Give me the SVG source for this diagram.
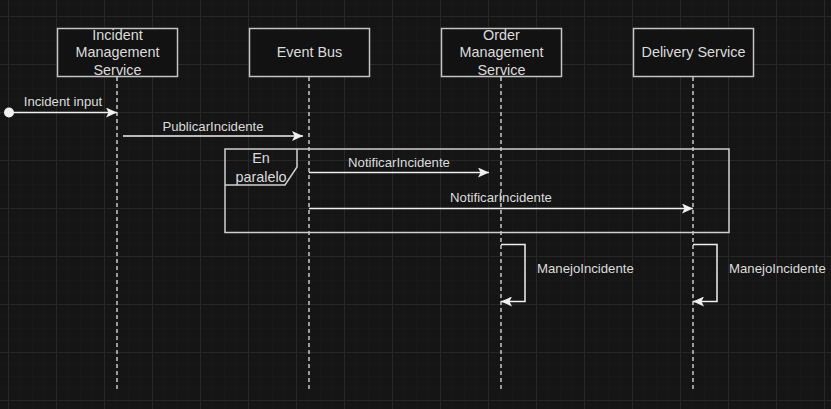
<svg xmlns="http://www.w3.org/2000/svg" width="831" height="409" viewBox="0 0 831 409">
<defs>
<pattern id="minor" x="8" y="16" width="12" height="12" patternUnits="userSpaceOnUse">
<path d="M0 0H12M0 0V12" fill="none" stroke="#1c1c1c" stroke-width="1"/>
</pattern>
<pattern id="major" x="8" y="16" width="48" height="48" patternUnits="userSpaceOnUse">
<path d="M0 0.5H48M0.5 0V48" fill="none" stroke="#272727" stroke-width="1"/>
</pattern>
<marker id="arr" viewBox="0 0 11 10" refX="11" refY="5" markerWidth="11" markerHeight="10" markerUnits="userSpaceOnUse" orient="auto">
<path d="M0 0L11 5L0 10L2.5 5Z" fill="#f0f0f0"/>
</marker>
</defs>
<style>
.box{fill:#121212;stroke:#c4c4c4;stroke-width:1.5}
.t{font-family:"Liberation Sans",Arial,sans-serif;font-size:14.4px;fill:#dcdcdc;text-anchor:middle}
.l{font-family:"Liberation Sans",Arial,sans-serif;font-size:13.2px;fill:#dcdcdc}
.life{stroke:#c8c8c8;stroke-width:1.5;stroke-dasharray:4 3;fill:none}
.msg{stroke:#f0f0f0;stroke-width:1.5;fill:none;marker-end:url(#arr)}
.frame{stroke:#d0d0d0;stroke-width:1.5;fill:none}
</style>
<rect width="831" height="409" fill="#151515"/>
<rect width="831" height="409" fill="url(#minor)"/>
<rect width="831" height="409" fill="url(#major)"/>

<g id="lifelines">
<line class="life" x1="117" y1="77" x2="117" y2="389"/>
<line class="life" x1="309" y1="77" x2="309" y2="389"/>
<line class="life" x1="501" y1="77" x2="501" y2="389"/>
<line class="life" x1="693" y1="77" x2="693" y2="389"/>
</g>

<g id="node-incident">
<rect class="box" x="57.5" y="28.5" width="120" height="48"/>
<text class="t" x="117.5" y="40">Incident</text>
<text class="t" x="117.5" y="57.3">Management</text>
<text class="t" x="117.5" y="74.6">Service</text>
</g>
<g id="node-eventbus">
<rect class="box" x="249.5" y="28.5" width="120" height="48"/>
<text class="t" x="309.5" y="57.3">Event Bus</text>
</g>
<g id="node-order">
<rect class="box" x="441.5" y="28.5" width="120" height="48"/>
<text class="t" x="501.5" y="40">Order</text>
<text class="t" x="501.5" y="57.3">Management</text>
<text class="t" x="501.5" y="74.6">Service</text>
</g>
<g id="node-delivery">
<rect class="box" x="633.5" y="28.5" width="120" height="48"/>
<text class="t" x="693.5" y="57.3">Delivery Service</text>
</g>

<g id="frame-paralelo">
<rect class="frame" x="225" y="149" width="504" height="83.5"/>
<path class="frame" d="M225 185H285L297 167V149"/>
<text class="t" x="261" y="163">En</text>
<text class="t" x="261" y="181.5">paralelo</text>
</g>

<g id="connectors">
<circle cx="9" cy="112.5" r="5" fill="#f0f0f0"/>
<line class="msg" x1="9" y1="112.5" x2="117" y2="112.5"/>
<text class="l" x="63" y="106" text-anchor="middle">Incident input</text>

<line class="msg" x1="123" y1="136" x2="303" y2="136"/>
<text class="l" x="213" y="130.5" text-anchor="middle">PublicarIncidente</text>

<line class="msg" x1="309" y1="172.5" x2="489" y2="172.5"/>
<text class="l" x="399" y="166.5" text-anchor="middle">NotificarIncidente</text>

<line class="msg" x1="309" y1="208.5" x2="693" y2="208.5"/>
<text class="l" x="501" y="202" text-anchor="middle">NotificarIncidente</text>

<path class="msg" d="M501 244.5H525V301.5H501"/>
<text class="l" x="537" y="272.5">ManejoIncidente</text>

<path class="msg" d="M693 244.5H717V301.5H693"/>
<text class="l" x="729" y="272.5">ManejoIncidente</text>
</g>
</svg>
